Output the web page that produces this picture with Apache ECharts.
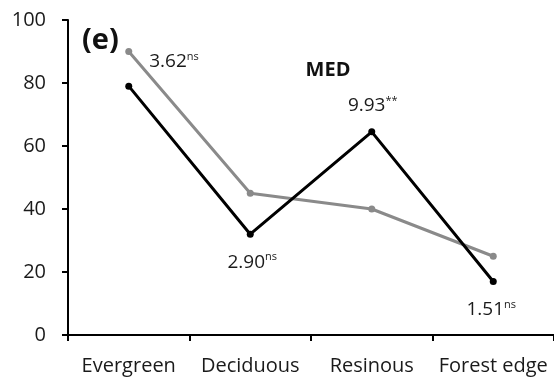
<!DOCTYPE html>
<html>
<head>
<meta charset="utf-8">
<script src="https://cdn.jsdelivr.net/npm/echarts@6/dist/echarts.min.js"></script>
<style>
  html, body { margin: 0; padding: 0; background: #fff; }
  #chart { width: 554px; height: 381px; }
</style>
</head>
<body>
<div id="chart"></div>
<script>
// Habitat categories along the x axis
const habitats = ['Evergreen', 'Deciduous', 'Resinous', 'Forest edge'];
// Grey series values per habitat
const greySeries = [90, 45, 40, 25];
// Black series values per habitat
const blackSeries = [79, 32, 64.5, 17];
// Test statistic and significance code shown next to each habitat
const testValues = ['3.62', '2.90', '9.93', '1.51'];
const testSignif = ['ns', 'ns', '**', 'ns'];
// Y axis range and step
const yMin = 0, yMax = 100, yStep = 20;

const FONT = '"Open Sans", "Liberation Sans", sans-serif';

function statLabel(i, position, offset) {
  return {
    show: true,
    position: position,
    offset: offset,
    formatter: '{v|' + testValues[i] + '}{s|' + testSignif[i] + '}',
    rich: {
      v: { fontFamily: FONT, fontSize: 19, color: '#1a1a1a', verticalAlign: 'bottom', lineHeight: 20 },
      s: { fontFamily: FONT, fontSize: 11, color: '#1a1a1a', verticalAlign: 'top', padding: [0, 0, 10, 0], lineHeight: 20 }
    }
  };
}

// Which series carries each habitat's statistic, and where it sits
const statPlacement = [
  { series: 'grey', position: 'right', offset: [12, 10] },
  { series: 'black', position: 'bottom', offset: [2, 9] },
  { series: 'black', position: 'top', offset: [1, -8] },
  { series: 'black', position: 'bottom', offset: [-2, 9] }
];

function buildData(values, name) {
  return values.map((v, i) => {
    const p = statPlacement[i];
    if (p.series === name) {
      return { value: v, label: statLabel(i, p.position, p.offset) };
    }
    return v;
  });
}

const chart = echarts.init(document.getElementById('chart'), null, { renderer: 'canvas' });
chart.setOption({
  animation: false,
  backgroundColor: '#ffffff',
  title: [
    { text: '(e)', left: 77, top: 21, textStyle: { fontFamily: FONT, fontSize: 29, fontWeight: 'bold', color: '#111' } },
    { text: 'MED', left: 323, top: 55, textAlign: 'center', textStyle: { fontFamily: FONT, fontSize: 20, fontWeight: 'bold', color: '#111' } }
  ],
  grid: { left: 68, top: 20, width: 493, bottom: 46, containLabel: false },
  xAxis: {
    type: 'category',
    data: habitats,
    boundaryGap: true,
    axisLine: { lineStyle: { color: '#000', width: 2 } },
    axisTick: { show: true, length: 6, lineStyle: { color: '#000', width: 2 } },
    axisLabel: { fontFamily: FONT, fontSize: 20, color: '#1a1a1a', margin: 21, interval: 0, hideOverlap: false },
    splitLine: { show: false }
  },
  yAxis: {
    type: 'value',
    min: yMin, max: yMax, interval: yStep,
    axisLine: { show: true, lineStyle: { color: '#000', width: 2 } },
    axisTick: { show: true, length: 6, lineStyle: { color: '#000', width: 2 } },
    axisLabel: { fontFamily: FONT, fontSize: 20, color: '#1a1a1a', margin: 22 },
    splitLine: { show: false }
  },
  series: [
    {
      name: 'grey', type: 'line', data: buildData(greySeries, 'grey'),
      symbol: 'circle', symbolSize: 7,
      lineStyle: { color: '#8a8a8a', width: 3 },
      itemStyle: { color: '#8a8a8a' },
      z: 2
    },
    {
      name: 'black', type: 'line', data: buildData(blackSeries, 'black'),
      symbol: 'circle', symbolSize: 7,
      lineStyle: { color: '#000', width: 3 },
      itemStyle: { color: '#000' },
      z: 3
    }
  ]
});
</script>
</body>
</html>
